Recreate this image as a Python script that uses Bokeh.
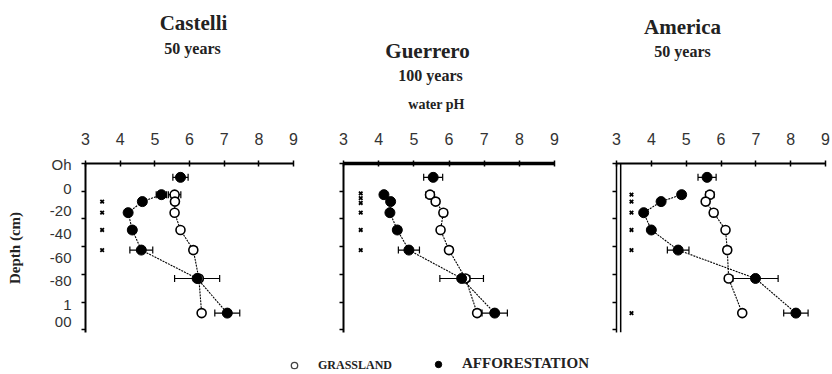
from bokeh.plotting import figure
from bokeh.models import (FixedTicker, Whisker, TeeHead, ColumnDataSource, Label,
                          Legend, LegendItem, Range1d, Span)
from bokeh.layouts import column, row
from bokeh.embed import file_html
from bokeh.resources import INLINE

# ---------------- data ----------------
ph_ticks = [3, 4, 5, 6, 7, 8, 9]
depth_ticks = [20, 0, -20, -40, -60, -80, -100]
depth_label_pos = [19.5, 2.2, -13.7, -30.3, -47.7, -64.3, -81.6, -93.9]
depth_labels = ["Oh", "0", "-20", "-40", "-60", "-80", "1", "00"]

aff_depth = [10, -2.5, -7.5, -15.5, -28, -42.5, -63, -88]
grass_depth = [-2.5, -7.5, -15.5, -28, -42.5, -63, -88]

castelli_aff = [5.74, 5.19, 4.64, 4.23, 4.35, 4.61, 6.22, 7.09]
castelli_aff_err = [0.22, 0.15, 0.10, 0.08, 0.10, 0.33, 0.65, 0.36]
castelli_grass = [5.57, 5.58, 5.57, 5.74, 6.11, 6.27, 6.35]
castelli_grass_err = [0.18, 0.10, 0.08, 0.08, 0.10, 0.10, 0.08]
castelli_sig = [-7.5, -15.5, -28, -42.5]

guerrero_aff = [5.55, 4.15, 4.34, 4.32, 4.53, 4.86, 6.36, 7.30]
guerrero_aff_err = [0.27, 0.05, 0.08, 0.08, 0.10, 0.30, 0.62, 0.36]
guerrero_grass = [5.46, 5.62, 5.84, 5.76, 6.00, 6.47, 6.80]
guerrero_grass_err = [0.12, 0.10, 0.10, 0.05, 0.10, 0.12, 0.10]
guerrero_sig = [-1.5, -5, -8.5, -15.5, -28, -42.5]

america_aff = [5.60, 4.87, 4.28, 3.78, 4.00, 4.77, 6.99, 8.15]
america_aff_err = [0.26, 0.10, 0.08, 0.08, 0.08, 0.31, 0.65, 0.35]
america_grass = [5.68, 5.56, 5.79, 6.13, 6.18, 6.22, 6.61]
america_grass_err = [0.12, 0.08, 0.10, 0.05, 0.10, 0.10, 0.08]
america_sig = [-2.5, -7.5, -15.5, -28, -42.5, -88]

site_names = ["Castelli", "Guerrero", "America"]
site_ages = ["50 years", "100 years", "50 years"]
measure = "water pH"

SERIF = "Liberation Serif"
SANS = "Liberation Sans"


def make_panel(aff, aff_err, grass, grass_err, sig_x, sig, width, left, right,
               ylabels, x_line_w, y_line_w):
    p = figure(width=width, height=225, x_range=Range1d(3, 9), y_range=Range1d(-102, 20),
               x_axis_location="above", toolbar_location=None, output_backend="svg",
               min_border_left=left, min_border_right=right,
               min_border_top=43, min_border_bottom=13)
    p.grid.visible = False
    p.outline_line_color = None

    xa = p.xaxis[0]
    xa.ticker = FixedTicker(ticks=ph_ticks)
    xa.major_label_text_font = SANS
    xa.major_label_text_font_size = "16px"
    xa.major_label_text_color = "#333333"
    xa.major_tick_in = 3
    xa.major_tick_out = 3
    xa.major_label_standoff = 16
    xa.minor_tick_line_color = None
    xa.axis_line_width = x_line_w
    xa.major_tick_line_width = 1.5

    ya = p.yaxis[0]
    if ylabels:
        ya.ticker = FixedTicker(ticks=depth_label_pos, minor_ticks=depth_ticks)
        ya.major_label_overrides = {k: v for k, v in zip(depth_label_pos, depth_labels)}
        ya.major_tick_in = 0
        ya.major_tick_out = 0
        ya.major_label_standoff = 10
        ya.major_label_text_font = SANS
        ya.major_label_text_font_size = "15px"
        ya.major_label_text_color = "#333333"
        ya.axis_label = "Depth (cm)"
        ya.axis_label_text_font = SERIF
        ya.axis_label_text_font_style = "bold"
        ya.axis_label_text_font_size = "15px"
        ya.axis_label_text_color = "#222222"
        ya.axis_label_standoff = 24
    else:
        ya.ticker = FixedTicker(ticks=[], minor_ticks=depth_ticks)
        ya.major_tick_in = 0
        ya.major_tick_out = 0
    ya.minor_tick_in = 0
    ya.minor_tick_out = 4
    ya.minor_tick_line_width = 1.5
    ya.axis_line_width = y_line_w

    src_a = ColumnDataSource(dict(x=aff, y=aff_depth,
                                  lo=[v - e for v, e in zip(aff, aff_err)],
                                  hi=[v + e for v, e in zip(aff, aff_err)]))
    src_g = ColumnDataSource(dict(x=grass, y=grass_depth,
                                  lo=[v - e for v, e in zip(grass, grass_err)],
                                  hi=[v + e for v, e in zip(grass, grass_err)]))
    for src in (src_a, src_g):
        p.add_layout(Whisker(source=src, base="y", lower="lo", upper="hi",
                             dimension="width", level="underlay",
                             line_color="black", line_width=1.2,
                             lower_head=TeeHead(size=7, line_width=1.2),
                             upper_head=TeeHead(size=7, line_width=1.2)))

    p.line(grass, grass_depth, line_color="black", line_width=1.1, line_dash="2 1")
    p.line(aff[1:], aff_depth[1:], line_color="black", line_width=1.1, line_dash="2 1")
    p.scatter(grass, grass_depth, size=9, marker="circle", fill_color="white",
              line_color="black", line_width=1.6)
    p.scatter(aff, aff_depth, size=10, marker="circle", fill_color="black",
              line_color="black")
    p.scatter([sig_x] * len(sig), sig, marker="x", size=5, line_width=1.8,
              line_color="black")
    return p


p1 = make_panel(castelli_aff, castelli_aff_err, castelli_grass, castelli_grass_err,
                3.48, castelli_sig, 300, 85, 7, True, 2, 2)
p2 = make_panel(guerrero_aff, guerrero_aff_err, guerrero_grass, guerrero_grass_err,
                3.49, guerrero_sig, 268, 43, 14, False, 3.5, 2)
p3 = make_panel(america_aff, america_aff_err, america_grass, america_grass_err,
                3.43, america_sig, 264, 48, 7, False, 2, 1.5)
p3.add_layout(Span(location=3.12, dimension="height", line_color="black", line_width=1.5))

# ---------------- header strip (titles, in pixel space) ----------------
ph = figure(width=832, height=120, x_range=Range1d(0, 832), y_range=Range1d(120, 0),
            x_axis_type=None, y_axis_type=None, toolbar_location=None,
            output_backend="svg", min_border=0)
ph.grid.visible = False
ph.outline_line_color = None


def head(x, y, text, size):
    ph.add_layout(Label(x=x, y=y, text=text, text_font=SERIF, text_font_size=size,
                        text_font_style="bold", text_color="#222222",
                        text_align="center", text_baseline="middle"))


head(193, 22, site_names[0], "21px")
head(192, 48, site_ages[0], "16px")
head(427, 50, site_names[1], "21px")
head(430, 75, site_ages[1], "16px")
head(436, 104, measure, "14px")
head(682, 26, site_names[2], "21px")
head(682, 51, site_ages[2], "16px")

# ---------------- legend strip ----------------
pl = figure(width=832, height=29, x_range=Range1d(0, 1), y_range=Range1d(0, 1),
            x_axis_type=None, y_axis_type=None, toolbar_location=None,
            output_backend="svg", min_border=0)
pl.grid.visible = False
pl.outline_line_color = None
rg = pl.scatter([-5], [-5], marker="circle", size=12, fill_color="white",
                line_color="#444444", line_width=1.3)
ra = pl.scatter([-5], [-5], marker="circle", size=13, fill_color="black",
                line_color="black")
for r, lab, loc, fs in ((rg, "GRASSLAND", (286, 1), "12px"),
                        (ra, "AFFORESTATION", (430, 2), "15px")):
    lg = Legend(items=[LegendItem(label=lab, renderers=[r])], location=loc,
                padding=0, margin=0, border_line_color=None,
                background_fill_alpha=0, glyph_width=16, glyph_height=16,
                label_standoff=16, label_text_font=SERIF, label_text_font_size=fs,
                label_text_font_style="bold", label_text_color="#222222")
    pl.add_layout(lg)

layout = column(ph, row(p1, p2, p3), pl)
open("out.html", "w").write(file_html(layout, INLINE))
